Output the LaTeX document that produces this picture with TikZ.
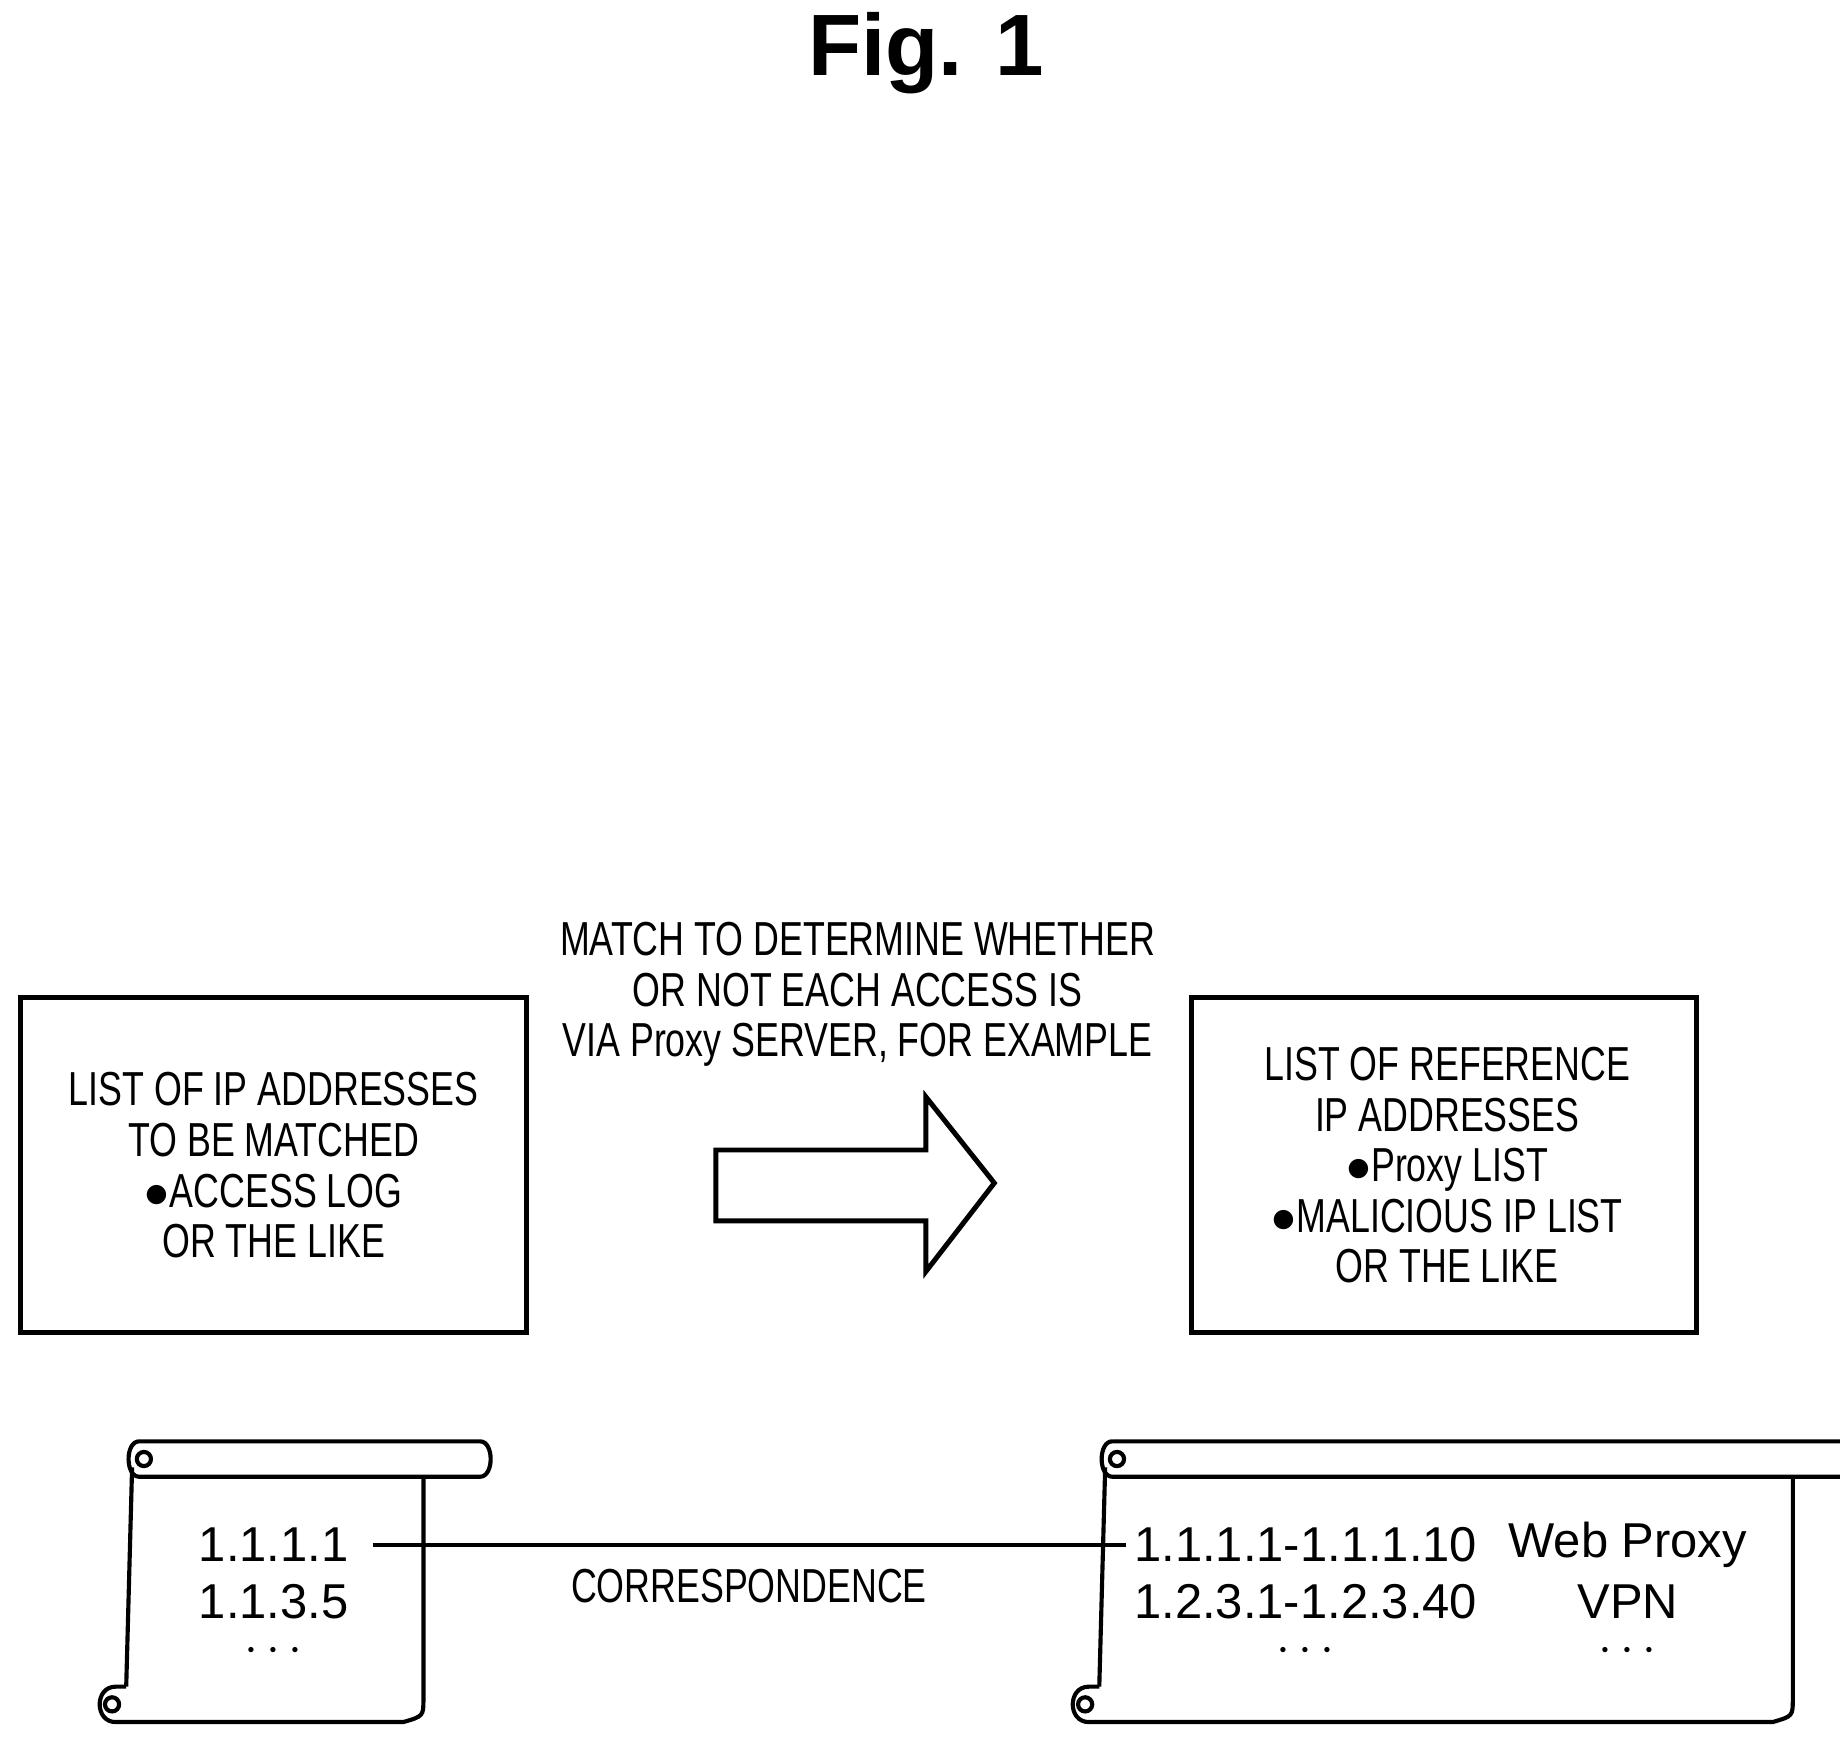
\documentclass[tikz,border=0pt]{standalone}
\usepackage{fontspec}
\setmainfont{Liberation Sans}
\newfontfamily\narrowfont[FakeStretch=0.75]{Liberation Sans}
\usetikzlibrary{arrows.meta, positioning}
% scroll: left x, right x, top y, bottom y
\newcommand\drawscroll[4]{%
    \draw[line width=1pt] (#1+8,#3) -- (#2+20,#3) .. controls (#2+32,#3) and (#2+32,#3+30) .. (#2+20,#3+30)
        -- (#1+8,#3+30) .. controls (#1-4,#3+30) and (#1-4,#3) .. (#1+8,#3);
    \draw[line width=1pt] (#1+12,#3+15) circle[radius=6];
    \draw[line width=1pt] (#1+2,#3+22) -- (#1-3,#4-30);
    \draw[line width=1pt] (#2-28,#3+30) -- (#2-28,#4-20) .. controls (#2-28,#4-5) .. (#2-45,#4) -- (#1-12,#4)
        .. controls (#1-30,#4) and (#1-30,#4-30) .. (#1-12,#4-30) -- (#1-3,#4-30);
    \draw[line width=1pt] (#1-15,#4-15) circle[radius=6];
}
\begin{document}
\begin{tikzpicture}[x=0.01cm,y=-0.01cm,
    caption/.style={font=\narrowfont\fontsize{11.5}{12.2}\selectfont, align=center},
    entry/.style={font=\fontsize{11.8}{14}\selectfont, inner sep=0pt},
    frame/.style={draw, line width=1.2pt}]
    \useasboundingbox (0,0) rectangle (1560,1473);

    \node[font=\bfseries\fontsize{21}{25}\selectfont] (fig) at (785,45) {Fig. 1};

    % boxes
    \node[frame, minimum width=4.29cm, minimum height=2.84cm] (target) at (232,988) {};
    \node[caption] (targettext) at (target) {LIST OF IP ADDRESSES\\TO BE MATCHED\\$\bullet$ACCESS LOG\\OR THE LIKE};
    \node[frame, minimum width=4.28cm, minimum height=2.84cm] (ref) at (1224,988) {};
    \node[caption] (reftext) at (1227,988) {LIST OF REFERENCE\\IP ADDRESSES\\$\bullet$Proxy LIST\\$\bullet$MALICIOUS IP LIST\\OR THE LIKE};
    \node[caption] (match) at (727,843) {MATCH TO DETERMINE WHETHER\\OR NOT EACH ACCESS IS\\VIA Proxy SERVER, FOR EXAMPLE};

    % arrow
    \draw[line width=1.2pt] (607,975) -- (785,975) -- (785,930) -- (843,1003) -- (785,1078)
        -- (785,1035) -- (607,1035) -- cycle;

    % scrolls
    \drawscroll{110}{387}{1222}{1460}
    \drawscroll{935}{1548}{1222}{1460}

    \node[entry] (a1) at (232,1310) {1.1.1.1};
    \node[entry] (a2) at (232,1358) {1.1.3.5};
    \node[entry] (a3) at (232,1400) {$\cdots$};
    \node[entry] (r1) at (1107,1310) {1.1.1.1{-}1.1.1.10};
    \node[entry] (r2) at (1107,1358) {1.2.3.1{-}1.2.3.40};
    \node[entry] (r3) at (1107,1400) {$\cdots$};
    \node[entry] (t1) at (1380,1310) {Web Proxy};
    \node[entry] (t2) at (1380,1358) {VPN};
    \node[entry] (t3) at (1380,1400) {$\cdots$};

    \draw[line width=1pt] ([xshift=0.2cm]a1.east) -- ([xshift=-0.06cm]r1.west);
    \node[caption] (corr) at (635,1345) {CORRESPONDENCE};
\end{tikzpicture}
\end{document}
